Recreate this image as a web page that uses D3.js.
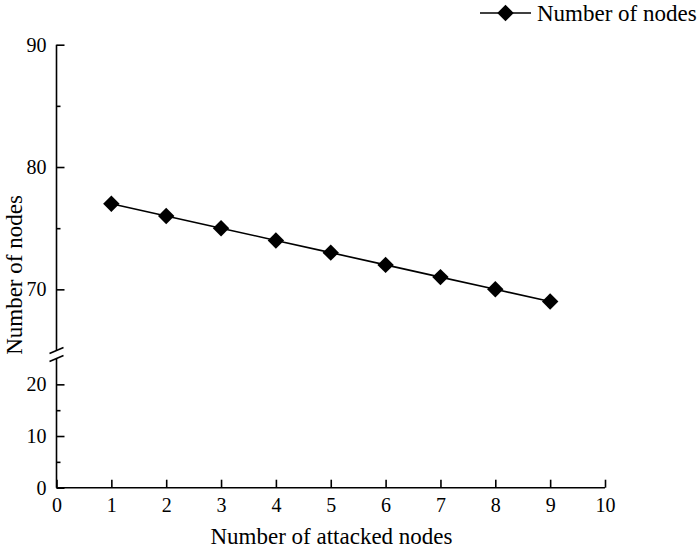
<!DOCTYPE html>
<html><head><meta charset="utf-8">
<script src="https://cdn.jsdelivr.net/npm/d3@7/dist/d3.min.js"></script>
<style>body{margin:0;background:#fff}svg{display:block}text{font-family:"Liberation Serif","Times New Roman",serif;fill:#000}</style>
</head><body><svg id="c" width="698" height="549"></svg>
<script>
const xValues = [1,2,3,4,5,6,7,8,9];
const nodeCounts = [77,76,75,74,73,72,71,70,69];
const xTicks = [0,1,2,3,4,5,6,7,8,9,10];
const yTicksUpper = [70,80,90];
const yTicksLower = [0,10,20];
const seriesName = "Number of nodes";
const xLabel = "Number of attacked nodes";
const yLabel = "Number of nodes";

const svg = d3.select("#c");
const x = d3.scaleLinear().domain([0,10]).range([56.5,605]);
const yUp = d3.scaleLinear().domain([65,90]).range([350.5,44.7]);
const yLo = d3.scaleLinear().domain([0,25]).range([487.7,358.5]);
const yOf = v => v >= 45 ? yUp(v) : yLo(v);
const ax = x(0);
const tickFont = 20;

// x axis
const gx = svg.append("g").attr("transform",`translate(0,${yLo(0)})`).attr("font-family",null);
gx.call(d3.axisBottom(x).tickValues(xTicks).tickSizeInner(-8).tickSizeOuter(0).tickPadding(9.8).tickFormat(d3.format("d")));
gx.attr("font-family","Liberation Serif");
gx.select(".domain").attr("stroke","#000").attr("stroke-width",1.6).attr("d",`M${ax},0H${x(10)}`);
gx.selectAll(".tick line").attr("stroke-width",1.6);
gx.selectAll(".tick text").attr("font-size",tickFont).attr("font-family","Liberation Serif");

// y axis lines (segments)
const ySeg = svg.append("g").attr("stroke","#000").attr("stroke-width",1.6).attr("fill","none");
ySeg.append("line").attr("x1",ax).attr("x2",ax).attr("y1",yUp(90)).attr("y2",yUp(65));
ySeg.append("line").attr("x1",ax).attr("x2",ax).attr("y1",yLo(25)).attr("y2",yLo(0));
// break marks
ySeg.append("line").attr("x1",ax-7).attr("y1",yUp(65)+3).attr("x2",ax+7).attr("y2",yUp(65)-3);
ySeg.append("line").attr("x1",ax-7).attr("y1",yLo(25)+3).attr("x2",ax+7).attr("y2",yLo(25)-3);

function yAxis(scale, ticks, minors){
  const g = svg.append("g").attr("transform",`translate(${ax},0)`);
  g.call(d3.axisLeft(scale).tickValues(ticks).tickSizeInner(-8).tickSizeOuter(0).tickPadding(10).tickFormat(d3.format("d")));
  g.attr("font-family","Liberation Serif");
  g.select(".domain").remove();
  g.selectAll(".tick line").attr("stroke-width",1.6);
  g.selectAll(".tick text").attr("font-size",tickFont).attr("font-family","Liberation Serif");
  const gm = svg.append("g").attr("transform",`translate(${ax},0)`);
  gm.call(d3.axisLeft(scale).tickValues(minors).tickSizeInner(-4).tickSizeOuter(0).tickFormat(""));
  gm.select(".domain").remove();
  gm.selectAll(".tick line").attr("stroke-width",1.6);
}
yAxis(yUp, yTicksUpper, [75,85]);
yAxis(yLo, yTicksLower, [5,15]);

// line
svg.append("path").datum(xValues.map((d,i)=>[d,nodeCounts[i]]))
  .attr("fill","none").attr("stroke","#000").attr("stroke-width",1.6)
  .attr("d", d3.line().x(d=>x(d[0])).y(d=>yOf(d[1])));
const sym = d3.symbol().type(d3.symbolSquare).size(135);
svg.append("g").selectAll("path").data(xValues.map((d,i)=>[d,nodeCounts[i]])).join("path")
  .attr("d",sym).attr("fill","#000")
  .attr("transform",d=>`translate(${x(d[0])},${yOf(d[1])}) rotate(45)`);

// labels
svg.append("text").attr("x",331.5).attr("y",544).attr("text-anchor","middle").attr("font-size",23).text(xLabel);
svg.append("text").attr("transform",`translate(21.5,${275}) rotate(-90)`).attr("text-anchor","middle").attr("font-size",23).text(yLabel);

// legend
const lg = svg.append("g");
lg.append("line").attr("x1",480).attr("x2",531).attr("y1",13).attr("y2",13).attr("stroke","#000").attr("stroke-width",1.6);
lg.append("path").attr("d",sym).attr("fill","#000").attr("transform","translate(505.5,13) rotate(45)");
lg.append("text").attr("x",537).attr("y",21).attr("font-size",23).text(seriesName);
</script></body></html>
